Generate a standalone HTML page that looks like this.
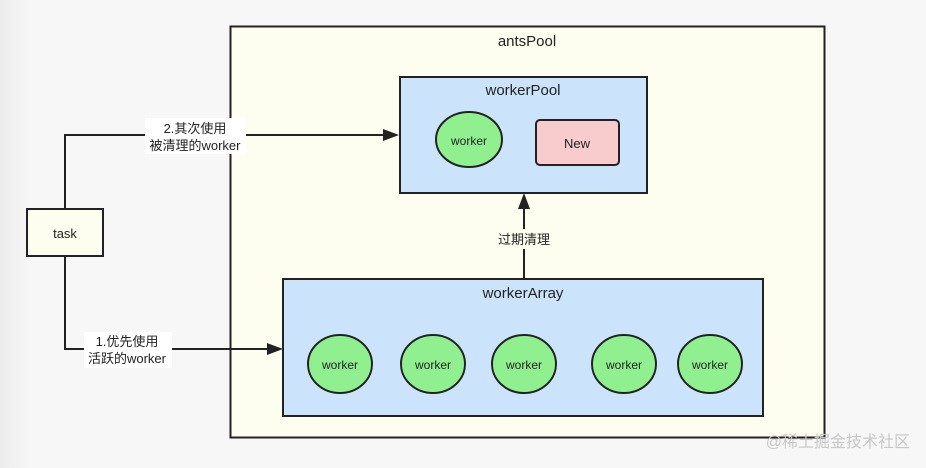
<!DOCTYPE html>
<html><head><meta charset="utf-8"><style>
html,body{margin:0;padding:0;width:926px;height:468px;overflow:hidden;background:#f7f7f7}
svg{display:block}
text{font-family:"Liberation Sans","Noto Sans CJK SC",sans-serif;fill:#222}
</style></head><body>
<svg width="926" height="468" viewBox="0 0 926 468">
<defs>
<linearGradient id="lg" x1="0" x2="1"><stop offset="0" stop-color="#ececec"/><stop offset="1" stop-color="#f7f7f7"/></linearGradient>
</defs>
<rect x="0" y="0" width="30" height="468" fill="url(#lg)"/>
<rect x="230.5" y="26.5" width="594" height="411" fill="#fefef0" stroke="#222" stroke-width="2"/>
<text x="527" y="46" font-size="15" text-anchor="middle">antsPool</text>

<rect x="400" y="77" width="247" height="116" fill="#cce4fb" stroke="#222" stroke-width="2"/>
<text x="523" y="95" font-size="15" text-anchor="middle">workerPool</text>
<ellipse cx="469" cy="139.5" rx="33" ry="27.5" fill="#90f090" stroke="#222" stroke-width="2"/>
<text x="469" y="145" font-size="12" text-anchor="middle">worker</text>
<rect x="536" y="120" width="83" height="45" rx="4" fill="#f8cccc" stroke="#222" stroke-width="2"/>
<text x="577" y="148" font-size="13" text-anchor="middle">New</text>

<rect x="283" y="279" width="480" height="137" fill="#cce4fb" stroke="#222" stroke-width="2"/>
<text x="523" y="298" font-size="15" text-anchor="middle">workerArray</text>
<g fill="#90f090" stroke="#222" stroke-width="2">
<ellipse cx="340" cy="364" rx="32" ry="29"/>
<ellipse cx="433" cy="364" rx="32" ry="29"/>
<ellipse cx="524" cy="364" rx="32" ry="29"/>
<ellipse cx="624" cy="364" rx="32" ry="29"/>
<ellipse cx="710" cy="364" rx="32" ry="29"/>
</g>
<g font-size="12" text-anchor="middle">
<text x="340" y="369">worker</text><text x="433" y="369">worker</text><text x="524" y="369">worker</text><text x="624" y="369">worker</text><text x="710" y="369">worker</text>
</g>

<rect x="27" y="209" width="76" height="47" fill="#fefef0" stroke="#222" stroke-width="2"/>
<text x="65" y="238" font-size="13" text-anchor="middle">task</text>

<g stroke="#222" stroke-width="2" fill="none">
<polyline points="65,209 65,135 384,135"/>
<polyline points="65,256 65,349 268,349"/>
<line x1="524" y1="279" x2="524" y2="208"/>
</g>
<g fill="#222">
<polygon points="399,135 383,129 383,141"/>
<polygon points="283,349 267,343 267,355"/>
<polygon points="524,193 518,209 530,209"/>
</g>
<rect x="145" y="118" width="101" height="36" fill="#fff"/>
<text x="195" y="133" font-size="13" text-anchor="middle">2.其次使用</text>
<text x="195" y="150" font-size="13" text-anchor="middle">被清理的worker</text>
<rect x="84" y="332" width="88" height="36" fill="#fff"/>
<text x="127" y="346" font-size="13" text-anchor="middle">1.优先使用</text>
<text x="127" y="363" font-size="13" text-anchor="middle">活跃的worker</text>
<rect x="490" y="229" width="68" height="20" fill="#fefef0"/>
<text x="524" y="244" font-size="13" text-anchor="middle">过期清理</text>

<text x="910" y="447" font-size="16" text-anchor="end" style="fill:#c8c8c8">@稀土掘金技术社区</text>
</svg>
</body></html>
